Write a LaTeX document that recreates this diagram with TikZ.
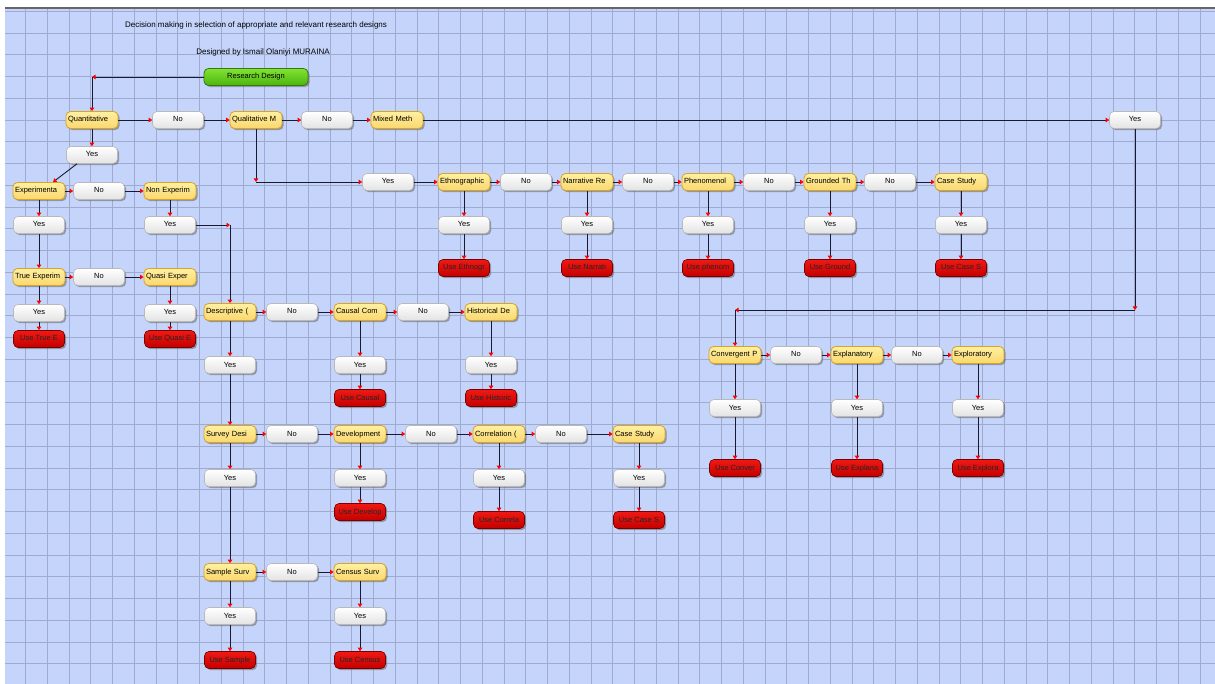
\documentclass[tikz,border=0pt]{standalone}
\usepackage{fontspec}
\setmainfont{Liberation Sans}
\usetikzlibrary{arrows.meta,shadows,calc}
\definecolor{bgblue}{RGB}{197,212,251}
\definecolor{gridc}{RGB}{160,170,206}
\definecolor{linec}{RGB}{25,25,50}
\definecolor{ytop}{RGB}{255,240,160}
\definecolor{ybot}{RGB}{250,215,110}
\definecolor{ydraw}{RGB}{215,165,40}
\definecolor{rtop}{RGB}{240,25,20}
\definecolor{rbot}{RGB}{195,0,0}
\definecolor{rdraw}{RGB}{120,0,0}
\definecolor{gtop}{RGB}{130,228,50}
\definecolor{gbot}{RGB}{75,180,15}
\definecolor{gdraw}{RGB}{55,120,20}
\begin{document}
\begin{tikzpicture}[x=1pt,y=-1pt,
  base/.style={rounded corners=4.5pt, minimum height=17pt, inner sep=0pt,
    text height=5.6pt, text depth=1.6pt,
    font=\fontsize{7.5}{8}\selectfont,
    drop shadow={shadow xshift=1.6pt,shadow yshift=-1.6pt,opacity=0.5,fill=black!65}},
  ybox/.style={base, draw=ydraw, line width=0.8pt, top color=ytop, bottom color=ybot,
    text width=48pt, align=left, inner xsep=2pt},
  gbox/.style={base, draw=gray!55, line width=0.6pt, top color=white, bottom color=gray!22,
    minimum width=51pt},
  rbox/.style={base, draw=rdraw, line width=0.6pt, top color=rtop, bottom color=rbot,
    minimum width=51pt, text=black!85},
  greenbox/.style={base, draw=gdraw, line width=0.8pt, top color=gtop, bottom color=gbot,
    minimum width=104pt},
  conn/.style={draw=linec, line width=0.9pt, -{Triangle[length=3.5pt,width=4.5pt,color=red]}},
  gridline/.style={draw=gridc, line width=0.7pt},
  titletext/.style={font=\fontsize{8}{9}\selectfont, inner sep=0pt}
]
\useasboundingbox (0,0) rectangle (1215,684);
\fill[white] (0,0) rectangle (1215,684);
\fill[bgblue] (5,8) rectangle (1215,684);
\foreach \i in {0,...,54} \draw[gridline] ({25.5+21.75*\i},8) -- ({25.5+21.75*\i},684);
\foreach \j in {0,...,31} \draw[gridline] (5,{11.25+21.75*\j}) -- (1215,{11.25+21.75*\j});
\draw[draw=black!60, line width=1.2pt] (5,8) -- (1215,8);

% titles
\node[titletext] (title) at (256,25) {Decision making in selection of appropriate and relevant research designs};
\node[titletext] (author) at (263,52) {Designed by Ismail Olaniyi MURAINA};

% top row
\node[greenbox] (rd) at (256,77) {Research Design};
\node[ybox] (quan) at (92,120) {Quantitative};
\node[gbox] (n1) at (178,120) {No};
\node[ybox] (qual) at (256,120) {Qualitative M};
\node[gbox] (n2) at (327,120) {No};
\node[ybox] (mixed) at (397,120) {Mixed Meth};
\node[gbox] (ym) at (1135,120) {Yes};

% quantitative branch
\node[gbox] (yq) at (92,155) {Yes};
\node[ybox] (exp) at (39,191) {Experimenta};
\node[gbox] (n3) at (99,191) {No};
\node[ybox] (nonexp) at (170,191) {Non Experim};
\node[gbox] (yexp) at (39,225) {Yes};
\node[gbox] (ynon) at (170,225) {Yes};
\node[ybox] (true) at (39,277) {True Experim};
\node[gbox] (n4) at (99,277) {No};
\node[ybox] (quasi) at (170,277) {Quasi Exper};
\node[gbox] (ytrue) at (39,313) {Yes};
\node[gbox] (yquasi) at (170,313) {Yes};
\node[rbox] (rtrue) at (39,339) {Use True E};
\node[rbox] (rquasi) at (170,339) {Use Quasi E};

% non-experimental
\node[ybox] (desc) at (230,312) {Descriptive (};
\node[gbox] (n5) at (292,312) {No};
\node[ybox] (causal) at (360,312) {Causal Com};
\node[gbox] (n6) at (423,312) {No};
\node[ybox] (hist) at (491,312) {Historical De};
\node[gbox] (ydesc) at (230,365) {Yes};
\node[gbox] (ycausal) at (360,365) {Yes};
\node[gbox] (yhist) at (491,365) {Yes};
\node[rbox] (rcausal) at (360,398) {Use Causal};
\node[rbox] (rhist) at (491,398) {Use Historic};

\node[ybox] (survey) at (230,434) {Survey Desi};
\node[gbox] (n7) at (292,434) {No};
\node[ybox] (dev) at (360,434) {Development};
\node[gbox] (n8) at (431,434) {No};
\node[ybox] (corr) at (499,434) {Correlation (};
\node[gbox] (n9) at (561,434) {No};
\node[ybox] (case1) at (639,434) {Case Study};
\node[gbox] (ysurvey) at (230,478) {Yes};
\node[gbox] (ydev) at (360,478) {Yes};
\node[gbox] (ycorr) at (499,478) {Yes};
\node[gbox] (ycase1) at (639,478) {Yes};
\node[rbox] (rdev) at (360,512) {Use Develop};
\node[rbox] (rcorr) at (499,520) {Use Correla};
\node[rbox] (rcase1) at (639,520) {Use Case S};

\node[ybox] (sample) at (230,572) {Sample Surv};
\node[gbox] (n10) at (292,572) {No};
\node[ybox] (census) at (360,572) {Census Surv};
\node[gbox] (ysample) at (230,616) {Yes};
\node[gbox] (ycensus) at (360,616) {Yes};
\node[rbox] (rsample) at (230,660) {Use Sample};
\node[rbox] (rcensus) at (360,660) {Use Census};

% qualitative branch
\node[gbox] (yql) at (388,182) {Yes};
\node[ybox] (eth) at (464,182) {Ethnographic};
\node[gbox] (n11) at (526,182) {No};
\node[ybox] (narr) at (587,182) {Narrative Re};
\node[gbox] (n12) at (648,182) {No};
\node[ybox] (phen) at (708,182) {Phenomenol};
\node[gbox] (n13) at (769,182) {No};
\node[ybox] (grd) at (830,182) {Grounded Th};
\node[gbox] (n14) at (890,182) {No};
\node[ybox] (case2) at (961,182) {Case Study};
\node[gbox] (yeth) at (464,225) {Yes};
\node[gbox] (ynarr) at (587,225) {Yes};
\node[gbox] (yphen) at (708,225) {Yes};
\node[gbox] (ygrd) at (830,225) {Yes};
\node[gbox] (ycase2) at (961,225) {Yes};
\node[rbox] (reth) at (464,268) {Use Ethnogr};
\node[rbox] (rnarr) at (587,268) {Use Narrati};
\node[rbox] (rphen) at (708,268) {Use phenom};
\node[rbox] (rgrd) at (830,268) {Use Ground};
\node[rbox] (rcase2) at (961,268) {Use Case S};

% mixed branch
\node[ybox] (conv) at (735,355) {Convergent P};
\node[gbox] (n15) at (796,355) {No};
\node[ybox] (expl) at (857,355) {Explanatory};
\node[gbox] (n16) at (917,355) {No};
\node[ybox] (explo) at (978,355) {Exploratory};
\node[gbox] (yconv) at (735,408) {Yes};
\node[gbox] (yexpl) at (857,408) {Yes};
\node[gbox] (yexplo) at (978,408) {Yes};
\node[rbox] (rconv) at (735,468) {Use Conver};
\node[rbox] (rexpl) at (857,468) {Use Explana};
\node[rbox] (rexplo) at (978,468) {Use Explora};

% corner coordinates
\coordinate (c1) at (quan.north |- rd.west);
\coordinate (c2) at (desc.north |- ynon.east);
\coordinate (c3) at (qual.south |- yql.west);
\coordinate (c4) at (1135,310);
\coordinate (c5) at (conv.north |- c4);

% connectors
\draw[conn] (rd.west) -- (c1);
\draw[conn] (c1) -- (quan.north);
\draw[conn] (quan.east) -- (n1.west);
\draw[conn] (n1.east) -- (qual.west);
\draw[conn] (qual.east) -- (n2.west);
\draw[conn] (n2.east) -- (mixed.west);
\draw[conn] (mixed.east) -- (ym.west);
\draw[conn] (quan.south) -- (yq.north);
\draw[conn] ($(yq.south)+(-15,0)$) -- ($(exp.north)+(14,0)$);
\draw[conn] (exp.east) -- (n3.west);
\draw[conn] (n3.east) -- (nonexp.west);
\draw[conn] (exp.south) -- (yexp.north);
\draw[conn] (yexp.south) -- (true.north);
\draw[conn] (nonexp.south) -- (ynon.north);
\draw[conn] (ynon.east) -- (c2);
\draw[conn] (c2) -- (desc.north);
\draw[conn] (true.east) -- (n4.west);
\draw[conn] (n4.east) -- (quasi.west);
\draw[conn] (true.south) -- (ytrue.north);
\draw[conn] (ytrue.south) -- (rtrue.north);
\draw[conn] (quasi.south) -- (yquasi.north);
\draw[conn] (yquasi.south) -- (rquasi.north);

\draw[conn] (desc.east) -- (n5.west);
\draw[conn] (n5.east) -- (causal.west);
\draw[conn] (causal.east) -- (n6.west);
\draw[conn] (n6.east) -- (hist.west);
\draw[conn] (desc.south) -- (ydesc.north);
\draw[conn] (ydesc.south) -- (survey.north);
\draw[conn] (causal.south) -- (ycausal.north);
\draw[conn] (ycausal.south) -- (rcausal.north);
\draw[conn] (hist.south) -- (yhist.north);
\draw[conn] (yhist.south) -- (rhist.north);

\draw[conn] (survey.east) -- (n7.west);
\draw[conn] (n7.east) -- (dev.west);
\draw[conn] (dev.east) -- (n8.west);
\draw[conn] (n8.east) -- (corr.west);
\draw[conn] (corr.east) -- (n9.west);
\draw[conn] (n9.east) -- (case1.west);
\draw[conn] (survey.south) -- (ysurvey.north);
\draw[conn] (ysurvey.south) -- (sample.north);
\draw[conn] (dev.south) -- (ydev.north);
\draw[conn] (ydev.south) -- (rdev.north);
\draw[conn] (corr.south) -- (ycorr.north);
\draw[conn] (ycorr.south) -- (rcorr.north);
\draw[conn] (case1.south) -- (ycase1.north);
\draw[conn] (ycase1.south) -- (rcase1.north);

\draw[conn] (sample.east) -- (n10.west);
\draw[conn] (n10.east) -- (census.west);
\draw[conn] (sample.south) -- (ysample.north);
\draw[conn] (ysample.south) -- (rsample.north);
\draw[conn] (census.south) -- (ycensus.north);
\draw[conn] (ycensus.south) -- (rcensus.north);

\draw[conn] (qual.south) -- (c3);
\draw[conn] (c3) -- (yql.west);
\draw[conn] (yql.east) -- (eth.west);
\draw[conn] (eth.east) -- (n11.west);
\draw[conn] (n11.east) -- (narr.west);
\draw[conn] (narr.east) -- (n12.west);
\draw[conn] (n12.east) -- (phen.west);
\draw[conn] (phen.east) -- (n13.west);
\draw[conn] (n13.east) -- (grd.west);
\draw[conn] (grd.east) -- (n14.west);
\draw[conn] (n14.east) -- (case2.west);
\foreach \a/\b/\c in {eth/yeth/reth, narr/ynarr/rnarr, phen/yphen/rphen, grd/ygrd/rgrd, case2/ycase2/rcase2, conv/yconv/rconv, expl/yexpl/rexpl, explo/yexplo/rexplo}{
  \draw[conn] (\a.south) -- (\b.north);
  \draw[conn] (\b.south) -- (\c.north);
}

\draw[conn] (ym.south) -- (c4);
\draw[conn] (c4) -- (c5);
\draw[conn] (c5) -- (conv.north);
\draw[conn] (conv.east) -- (n15.west);
\draw[conn] (n15.east) -- (expl.west);
\draw[conn] (expl.east) -- (n16.west);
\draw[conn] (n16.east) -- (explo.west);
\end{tikzpicture}
\end{document}
